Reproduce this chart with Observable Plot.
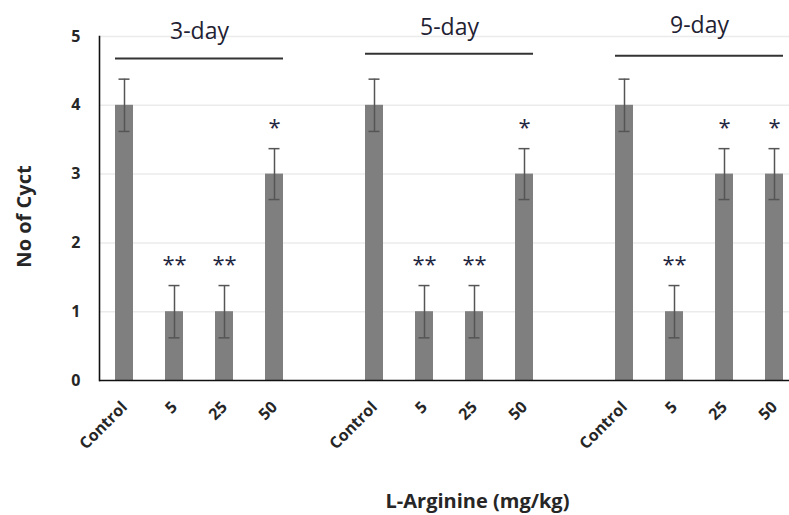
<!DOCTYPE html>
<html>
<head>
<meta charset="utf-8">
<script src="https://cdn.jsdelivr.net/npm/d3@7"></script>
<script src="https://cdn.jsdelivr.net/npm/@observablehq/plot@0.6"></script>
<style>
  html, body { margin: 0; padding: 0; background: #fff; }
  #chart { width: 789px; height: 515px; overflow: hidden; }
</style>
</head>
<body>
<div id="chart"></div>
<script>
// ---- data ----
const groups = ["3-day", "5-day", "9-day"];
const doses = ["Control", "5", "25", "50"];
const values3 = [4, 1, 1, 3];
const values5 = [4, 1, 1, 3];
const values9 = [4, 1, 3, 3];
const errors3 = [0.38, 0.38, 0.38, 0.37];
const errors5 = [0.38, 0.38, 0.38, 0.37];
const errors9 = [0.38, 0.38, 0.37, 0.37];
const stars3 = ["", "**", "**", "*"];
const stars5 = ["", "**", "**", "*"];
const stars9 = ["", "**", "*", "*"];
const groupLineY = [4.68, 4.75, 4.72];
const groupLabelY = [4.97, 5.02, 5.05];
const yTicks = [0, 1, 2, 3, 4, 5];
const xLabel = "L-Arginine (mg/kg)";
const yLabel = "No of Cyct";

// ---- table ----
const seriesValues = [values3, values5, values9];
const seriesErrors = [errors3, errors5, errors9];
const seriesStars = [stars3, stars5, stars9];
const rows = [];
const slots = [];
groups.forEach((g, gi) => {
  if (gi > 0) slots.push("gap" + gi);
  doses.forEach((d, di) => {
    const slot = g + "|" + d;
    slots.push(slot);
    rows.push({slot, group: g, dose: d, value: seriesValues[gi][di], err: seriesErrors[gi][di], star: seriesStars[gi][di]});
  });
});
const groupRows = groups.map((g, gi) => ({
  group: g,
  first: g + "|" + doses[0],
  last: g + "|" + doses[doses.length - 1],
  mid: g + "|" + doses[1],
  lineY: groupLineY[gi],
  labelY: groupLabelY[gi]
}));
const slotLabel = s => (s.startsWith("gap") ? "" : s.split("|")[1]);

const font = "'Open Sans', sans-serif";
const textColor = "#262626";

const chart = Plot.plot({
  width: 789,
  height: 515,
  marginTop: 36,
  marginBottom: 135,
  marginLeft: 99,
  marginRight: 0,
  style: {fontFamily: font, color: textColor, background: "#fff", overflow: "visible"},
  x: {domain: slots, range: [99, 799], paddingInner: 0.64, paddingOuter: 0.32, align: 0.5},
  y: {domain: [0, 5]},
  marks: [
    Plot.ruleY(yTicks.slice(1), {stroke: "#ebebeb", strokeWidth: 1.5}),
    Plot.barY(rows, {x: "slot", y: "value", fill: "#7f7f7f"}),
    Plot.ruleX(rows, {x: "slot", y1: d => d.value - d.err, y2: d => d.value + d.err, stroke: "#555", strokeWidth: 1.5}),
    Plot.tickY(rows, {x: "slot", y: d => d.value + d.err, stroke: "#555", strokeWidth: 1.5, inset: 3.5}),
    Plot.tickY(rows, {x: "slot", y: d => d.value - d.err, stroke: "#555", strokeWidth: 1.5, inset: 3.5}),
    Plot.text(rows.filter(d => d.star), {x: "slot", y: d => d.value + d.err, text: "star", dy: -21, fontSize: 22, fill: "#1f2640", lineAnchor: "middle"}),
    Plot.ruleY(groupRows, {x1: "first", x2: "last", y: "lineY", stroke: "#333", strokeWidth: 2}),
    Plot.text(groupRows, {x: "mid", y: "labelY", text: "group", dx: 25, lineAnchor: "bottom", fontSize: 23, fill: "#1f2233"}),
    Plot.ruleY([0], {stroke: "#111", strokeWidth: 1.6}),
    Plot.frame({anchor: "left", stroke: "#111", strokeWidth: 1.6}),
    Plot.axisY({ticks: yTicks, tickSize: 0, tickPadding: 19, fontSize: 16, fontWeight: "bold", label: null, tickFormat: d3.format("d")}),
    Plot.axisX({tickSize: 0, tickPadding: 24, tickRotate: -45, fontSize: 16, fontWeight: "bold", label: null, tickFormat: slotLabel}),
    Plot.text([xLabel], {frameAnchor: "bottom", dx: 33, dy: 127, fontSize: 20, fontWeight: "bold", lineAnchor: "bottom"}),
    Plot.text([yLabel], {frameAnchor: "left", textAnchor: "middle", rotate: -90, dx: -75, dy: 8, fontSize: 20, fontWeight: "bold"})
  ]
});
document.getElementById("chart").appendChild(chart);
</script>
</body>
</html>
